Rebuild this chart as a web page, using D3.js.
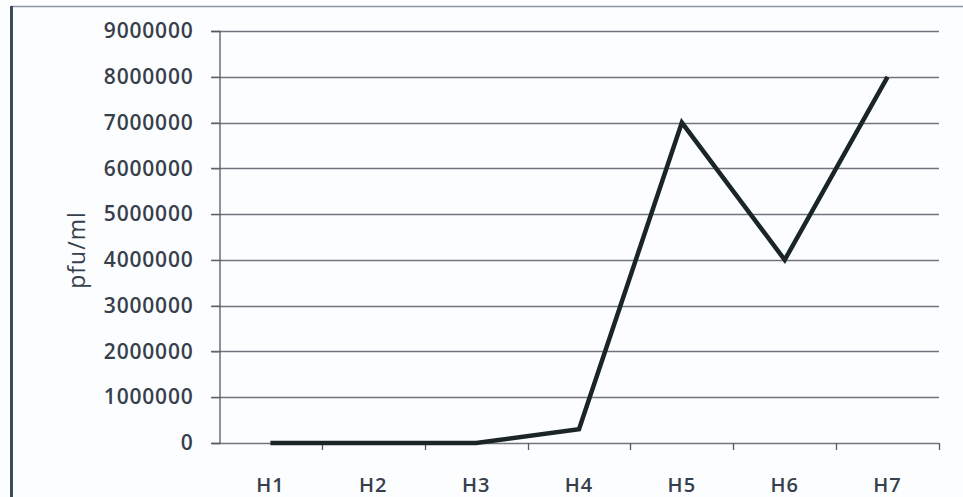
<!DOCTYPE html>
<html>
<head>
<meta charset="utf-8">
<script src="https://cdn.jsdelivr.net/npm/d3@7/dist/d3.min.js"></script>
<style>
  html, body { margin: 0; padding: 0; background: #ffffff; }
  svg { display: block; }
</style>
</head>
<body>
<script>
// Plaque titres per harvest
const categories = ["H1", "H2", "H3", "H4", "H5", "H6", "H7"];
const titres = [0, 0, 0, 300000, 7000000, 4000000, 8000000];
const yTicks = [0, 1000000, 2000000, 3000000, 4000000, 5000000, 6000000, 7000000, 8000000, 9000000];
const yTitle = "pfu/ml";

const W = 963, H = 497;
const plot = { left: 219, right: 939, top: 31, bottom: 443 };
const textColor = "#36404c";
const font = "'Open Sans', sans-serif";

const svg = d3.select("body").append("svg")
  .attr("width", W).attr("height", H);

// frame
svg.append("rect").attr("x", 0).attr("y", 0).attr("width", W).attr("height", H)
  .attr("fill", "#fcfdfe");
svg.append("line").attr("x1", 11).attr("x2", W).attr("y1", 6.5).attr("y2", 6.5)
  .attr("stroke", "#8a96a8").attr("stroke-width", 1.5);
svg.append("line").attr("x1", 11.5).attr("x2", 11.5).attr("y1", 6).attr("y2", H)
  .attr("stroke", "#3e4b5c").attr("stroke-width", 3);

const x = d3.scaleBand().domain(categories).range([plot.left, plot.right]).padding(0);
const y = d3.scaleLinear().domain([0, 9000000]).range([plot.bottom, plot.top]);

// horizontal gridlines
svg.append("g").selectAll("line").data(yTicks).join("line")
  .attr("x1", plot.left - 8).attr("x2", plot.right)
  .attr("y1", d => Math.round(y(d)) + 0.5).attr("y2", d => Math.round(y(d)) + 0.5)
  .attr("stroke", "#70747c").attr("stroke-width", 1.3);

// y axis
const yAxis = svg.append("g").attr("transform", `translate(${plot.left + 0.5},0)`)
  .call(d3.axisLeft(y).tickValues(yTicks).tickFormat(d3.format("d")).tickSize(8).tickPadding(18));
yAxis.select(".domain").attr("stroke", "#555a62").attr("stroke-width", 1.3);
yAxis.selectAll(".tick line").attr("stroke", "#555a62");
yAxis.selectAll("text").attr("fill", textColor).attr("font-family", font)
  .attr("font-size", 21).attr("font-weight", 600).attr("letter-spacing", 0.8);

// x axis
const xAxis = svg.append("g").attr("transform", `translate(0,${Math.round(plot.bottom) + 0.5})`)
  .call(d3.axisBottom(x).tickSize(0).tickPadding(34));
xAxis.select(".domain").remove();
xAxis.selectAll("text").attr("fill", textColor).attr("font-family", font)
  .attr("font-size", 20).attr("font-weight", 600).attr("letter-spacing", 1);
// category separators
const edges = categories.map(c => x(c)).concat([plot.right]);
svg.append("g").selectAll("line").data(edges.slice(1)).join("line")
  .attr("x1", d => Math.round(d) + 0.5).attr("x2", d => Math.round(d) + 0.5)
  .attr("y1", plot.bottom).attr("y2", plot.bottom + 7)
  .attr("stroke", "#555a62").attr("stroke-width", 1.3);

// axis title
svg.append("text")
  .attr("transform", `translate(85,250) rotate(-90)`)
  .attr("text-anchor", "middle")
  .attr("fill", textColor).attr("font-family", font)
  .attr("font-size", 23).attr("font-weight", 500).attr("letter-spacing", 1)
  .text(yTitle);

// series line
const line = d3.line()
  .x((d, i) => x(categories[i]) + x.bandwidth() / 2)
  .y(d => y(d));
svg.append("path").datum(titres)
  .attr("d", line)
  .attr("fill", "none")
  .attr("stroke", "#1b2526")
  .attr("stroke-width", 4.5)
  .attr("stroke-linejoin", "miter");
</script>
</body>
</html>
